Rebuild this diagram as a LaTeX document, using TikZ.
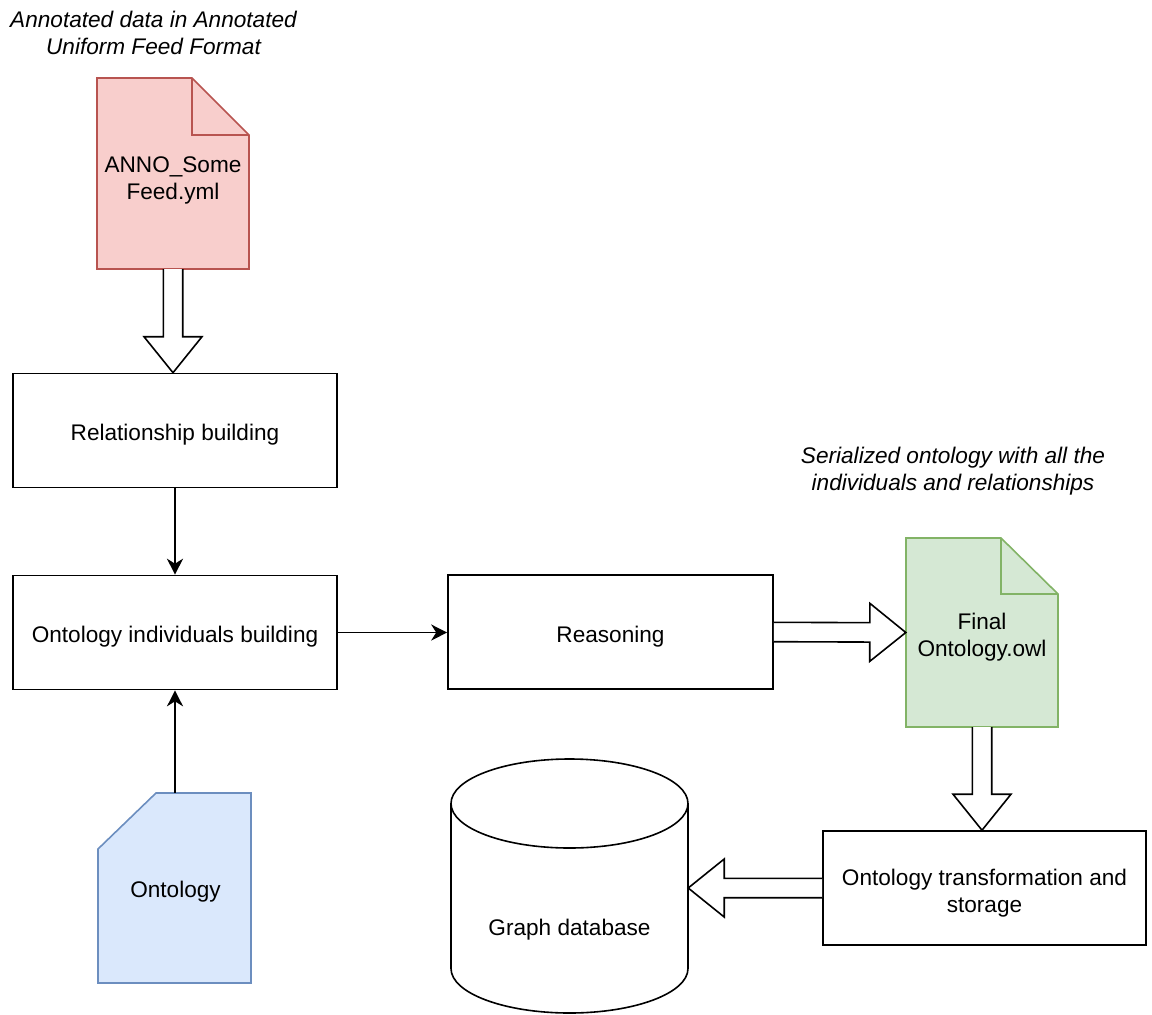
\documentclass[tikz,border=0pt]{standalone}
\usepackage{fontspec}
\setmainfont{Liberation Sans}
\usetikzlibrary{calc,arrows.meta}

\definecolor{redfill}{HTML}{F8CECC}
\definecolor{redline}{HTML}{B85450}
\definecolor{greenfill}{HTML}{D5E8D4}
\definecolor{greenline}{HTML}{82B366}
\definecolor{bluefill}{HTML}{DAE8FC}
\definecolor{blueline}{HTML}{6C8EBF}

\tikzset{
  basetxt/.style={font=\fontsize{22.6}{27.1}\selectfont, align=center, inner sep=0pt},
  txt/.style={basetxt, text depth=0pt},
  labelshift/.style={label position=center},
  note/.style={basetxt, font=\fontsize{22.6}{27.1}\selectfont\itshape},
  procbox/.style={txt, draw, line width=1.6pt, minimum width=324pt, minimum height=114pt},
  holder/.style={txt, draw=none},
  outline/.style={line width=1.6pt, line join=miter},
  flow/.style={line width=1.6pt, -{Stealth[length=16pt, width=16pt, inset=5pt]}},
  blockarr/.style={line width=1.6pt, fill=white, line join=miter},
}

% hollow "flex" arrow from #1 to #2
\newcommand\hollowarrow[2]{%
  \draw[blockarr]
    ($(#1)!9.7pt!90:(#2)$)
    -- ($(#2)!36pt!(#1)!9.7pt!90:(#2)$)
    -- ($(#2)!36pt!(#1)!29pt!90:(#2)$)
    -- (#2)
    -- ($(#2)!36pt!(#1)!29pt!-90:(#2)$)
    -- ($(#2)!36pt!(#1)!9.7pt!-90:(#2)$)
    -- ($(#1)!9.7pt!-90:(#2)$);%
}

\begin{document}
\begin{tikzpicture}[x=1pt, y=-1pt]
\useasboundingbox (0,0) rectangle (1152,1015);

% captions
\node[note] (capin) at (153.5,33) {Annotated data in Annotated\\Uniform Feed Format};
\node[note] (capout) at (953,471) {Serialized ontology with all the\\individuals and relationships};

% input feed file (folded-corner document)
\draw[outline, fill=redfill, draw=redline]
  (97,78) -- (192,78) -- (249,135) -- (249,269) -- (97,269) -- cycle;
\draw[outline, draw=redline] (192,78) -- (192,135) -- (249,135);
\node[holder, minimum width=152pt, minimum height=191pt] (feed) at (173,173.5) {};
\node[txt] (feedlabel) at (173,178) {ANNO\_Some\\Feed.yml};

% processing steps
\node[procbox] (rel) at (175,430.5) {};
\node[txt] at (175,432) {Relationship building};
\node[procbox] (ind) at (175,632.5) {};
\node[txt] at (175,634) {Ontology individuals building};
\node[procbox, minimum width=325pt] (reas) at (610.5,632) {};
\node[txt] at (610.5,634) {Reasoning};
\node[procbox, minimum width=323pt] (store) at (984.5,888) {};
\node[txt] at (984.5,891) {Ontology transformation and\\storage};

% output ontology file
\draw[outline, fill=greenfill, draw=greenline]
  (906,538) -- (1001,538) -- (1058,594) -- (1058,727) -- (906,727) -- cycle;
\draw[outline, draw=greenline] (1001,538) -- (1001,594) -- (1058,594);
\node[holder, minimum width=152pt, minimum height=189pt] (final) at (982,632.5) {};
\node[txt] (finallabel) at (982,635) {Final\\Ontology.owl};

% ontology card
\draw[outline, fill=bluefill, draw=blueline]
  (156,793) -- (251,793) -- (251,983) -- (98,983) -- (98,849) -- cycle;
\node[holder, minimum width=153pt, minimum height=190pt] (onto) at (174.5,888) {};
\node[txt] (ontolabel) at (175.5,889) {Ontology};

% graph database cylinder
\draw[outline, fill=white]
  (451,803.5) -- (451,968.5) arc[start angle=180, end angle=0, x radius=118.5, y radius=44.5]
  -- (688,803.5) arc[start angle=0, end angle=-180, x radius=118.5, y radius=44.5] -- cycle;
\draw[outline] (451,803.5) arc[start angle=180, end angle=0, x radius=118.5, y radius=44.5];
\node[holder, minimum width=237pt, minimum height=254pt] (gdb) at (569.5,886) {};
\node[txt] (gdblabel) at (569.5,927) {Graph database};

% connector end points
\coordinate (feedtip) at (feed.south |- rel.north);
\coordinate (finaltip) at (final.south |- store.north);
\coordinate (gdbtip) at (store.west -| gdb.east);

% hollow arrows
\hollowarrow{feed.south}{feedtip}
\hollowarrow{reas.east}{final.west}
\hollowarrow{final.south}{finaltip}
\hollowarrow{store.west}{gdbtip}

% plain arrows
\draw[flow] (rel.south) -- (ind.north);
\draw[flow] (ind.east) -- (reas.west |- ind.east);
\draw[flow] (onto.north -| ind.south) -- (ind.south);
\end{tikzpicture}
\end{document}
